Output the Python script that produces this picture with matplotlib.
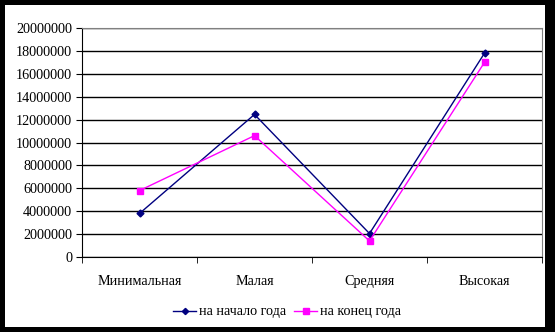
import matplotlib.pyplot as plt
from matplotlib.patches import Rectangle

categories = ['Минимальная', 'Малая', 'Средняя', 'Высокая']
start_year = [3800000, 12450000, 2050000, 17800000]
end_year = [5800000, 10600000, 1400000, 17000000]
series_names = ['на начало года', 'на конец года']

plt.rcParams['font.family'] = ['Liberation Serif', 'DejaVu Serif']
fs = 10.2

fig = plt.figure(figsize=(5.55, 3.32), dpi=100, facecolor='black')
fig.patches.append(Rectangle((5 / 555, 5 / 332), 540 / 555, 322 / 332,
                             transform=fig.transFigure, facecolor='white',
                             edgecolor='none', zorder=0))

ax = fig.add_axes([82 / 555, 1 - 257 / 332, 460 / 555, 229 / 332])
ax.set_zorder(2)
x = range(len(categories))
ax.plot(x, start_year, color='#000080', marker='D', markersize=3.5, linewidth=1,
        label=series_names[0], zorder=3)
ax.plot(x, end_year, color='#FF00FF', marker='s', markersize=4.5, linewidth=1,
        label=series_names[1], zorder=3)

ax.set_xlim(-0.5, 3.5)
ax.set_ylim(0, 20000000)
ax.set_yticks(range(0, 20000001, 2000000))
ax.set_yticklabels([str(v) for v in range(0, 20000001, 2000000)], fontsize=fs)
ax.yaxis.grid(True, color='black', linewidth=1)
ax.set_axisbelow(True)
ax.set_xticks(list(x))
ax.set_xticklabels(categories, fontsize=fs)
ax.set_xticks([-0.5, 0.5, 1.5, 2.5, 3.5], minor=True)
ax.tick_params(axis='x', which='major', length=0, pad=13)
ax.tick_params(axis='x', which='minor', length=4, color='black')
ax.tick_params(axis='y', length=4, color='black', pad=3)

for side in ['top', 'right']:
    ax.spines[side].set_color('#808080')
for side in ['left', 'bottom']:
    ax.spines[side].set_color('black')

leg = fig.legend(loc='center', bbox_to_anchor=(287 / 555, 1 - 312 / 332), ncol=2,
                 frameon=False, fontsize=fs, handlelength=1.6, handletextpad=0.2,
                 columnspacing=0.6, markerscale=0.9)
leg.set_zorder(3)

fig.savefig('out.png', dpi=100, facecolor='black')
